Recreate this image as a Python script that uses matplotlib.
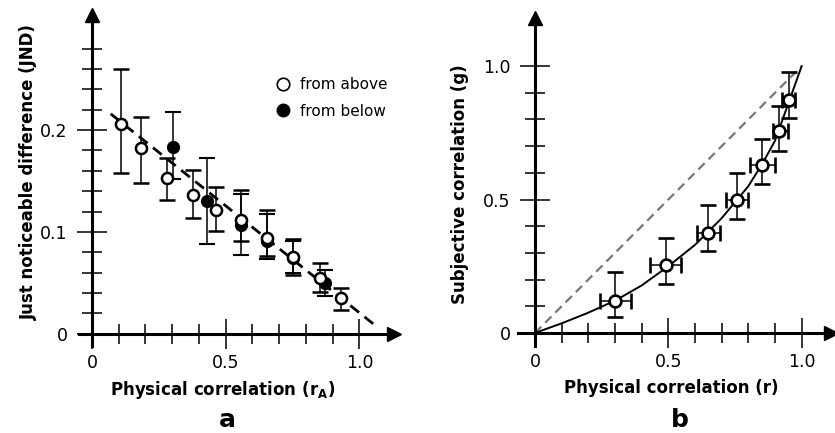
import matplotlib
matplotlib.use('Agg')
import matplotlib.pyplot as plt
import numpy as np
from matplotlib.lines import Line2D

# panel a: JND vs physical correlation
above_x = [0.107, 0.183, 0.279, 0.376, 0.463, 0.556, 0.655, 0.751, 0.853, 0.932]
above_y = [0.206, 0.182, 0.153, 0.136, 0.122, 0.112, 0.094, 0.075, 0.055, 0.035]
above_lo = [0.158, 0.148, 0.131, 0.114, 0.101, 0.091, 0.076, 0.058, 0.041, 0.023]
above_hi = [0.260, 0.213, 0.173, 0.161, 0.144, 0.141, 0.122, 0.093, 0.070, 0.045]

below_x = [0.303, 0.430, 0.556, 0.655, 0.751, 0.872]
below_y = [0.183, 0.130, 0.107, 0.091, 0.074, 0.050]
below_lo = [0.152, 0.088, 0.077, 0.073, 0.060, 0.037]
below_hi = [0.218, 0.173, 0.137, 0.118, 0.091, 0.063]

fit_a_x = [0.07, 1.06]
fit_a_y = [0.216, 0.008]

# panel b: subjective vs physical correlation
g_x = [0.302, 0.491, 0.649, 0.758, 0.853, 0.915, 0.951]
g_y = [0.121, 0.253, 0.375, 0.500, 0.629, 0.757, 0.874]
g_ylo = [0.058, 0.184, 0.308, 0.427, 0.559, 0.682, 0.807]
g_yhi = [0.228, 0.357, 0.480, 0.600, 0.726, 0.851, 0.979]
g_xlo = [0.243, 0.433, 0.608, 0.718, 0.805, 0.893, 0.928]
g_xhi = [0.360, 0.549, 0.693, 0.799, 0.899, 0.949, 0.974]

curve_x = [0.0, 0.1, 0.2, 0.3, 0.4, 0.5, 0.6, 0.7, 0.8, 0.85, 0.9, 0.95, 0.975, 1.0]
curve_y = [0.0, 0.036, 0.076, 0.121, 0.178, 0.25, 0.33, 0.43, 0.55, 0.63, 0.72, 0.86, 0.93, 1.0]

diag_x = [0.0, 1.0]
diag_y = [0.0, 1.0]


def style_axes(ax, xmajor, xminor, ymajor, yminor, xlabels, ylabels):
    for s in ['top', 'right']:
        ax.spines[s].set_visible(False)
    ax.spines['left'].set_position(('data', 0))
    ax.spines['bottom'].set_position(('data', 0))
    ax.spines['left'].set_linewidth(2.2)
    ax.spines['bottom'].set_linewidth(2.2)
    ax.set_xticks(xmajor)
    ax.set_xticklabels(xlabels)
    ax.set_xticks(xminor, minor=True)
    ax.set_yticks(ymajor)
    ax.set_yticklabels(ylabels)
    ax.set_yticks(yminor, minor=True)
    ax.tick_params(which='major', direction='inout', length=21, width=1.1, labelsize=12.5)
    ax.tick_params(which='minor', direction='inout', length=15, width=1.1)
    ax.tick_params(axis='x', which='major', pad=4)
    ax.tick_params(axis='y', which='major', pad=7)
    ax.plot(1, 0, '>k', ms=10, transform=ax.get_yaxis_transform(), clip_on=False)
    ax.plot(0, 1, '^k', ms=10, transform=ax.get_xaxis_transform(), clip_on=False)


fig = plt.figure(figsize=(8.35, 4.33), dpi=100)

# ---- panel a ----
ax1 = fig.add_axes([0.0941, 0.2009, 0.378, 0.7644])
ax1.set_xlim(-0.05, 1.13)
ax1.set_ylim(-0.012, 0.313)
style_axes(ax1, [0, 0.5, 1.0], np.arange(0.1, 1.0, 0.1), [0, 0.1, 0.2],
           [v for v in np.arange(0.02, 0.29, 0.02) if abs(v - 0.1) > 1e-6 and abs(v - 0.2) > 1e-6],
           ['0', '0.5', '1.0'], ['0', '0.1', '0.2'])

ax1.plot(fit_a_x, fit_a_y, color='black', lw=2.0, ls=(0, (4, 2.5)), zorder=2)

b_y = np.array(below_y)
ax1.errorbar(below_x, below_y, yerr=[b_y - np.array(below_lo), np.array(below_hi) - b_y],
             fmt='o', ms=8, mfc='black', mec='black', mew=1.5, ecolor='black',
             elinewidth=1.1, capsize=6, capthick=1.1, zorder=3)
a_y = np.array(above_y)
ax1.errorbar(above_x, above_y, yerr=[a_y - np.array(above_lo), np.array(above_hi) - a_y],
             fmt='o', ms=8, mfc='white', mec='black', mew=1.8, ecolor='black',
             elinewidth=1.1, capsize=6, capthick=1.1, zorder=4)

handles = [Line2D([], [], marker='o', ls='none', ms=9, mfc='white', mec='black', mew=1.2),
           Line2D([], [], marker='o', ls='none', ms=9, mfc='black', mec='black')]
ax1.legend(handles, ['from above', 'from below'], loc='upper left',
           bbox_to_anchor=(0.6, 0.835), frameon=False, fontsize=11,
           handlelength=1.0, handletextpad=0.6, borderpad=0, labelspacing=0.75)

ax1.set_xlabel('Physical correlation (r$_\\mathbf{A}$)', fontsize=12, fontweight='bold')
ax1.set_ylabel('Just noticeable difference (JND)', fontsize=12, fontweight='bold')
ax1.xaxis.set_label_coords(0.455, -0.1)
ax1.yaxis.set_label_coords(-0.13, 0.525)

# ---- panel b ----
ax2 = fig.add_axes([0.6199, 0.2002, 0.3753, 0.758])
ax2.set_xlim(-0.065, 1.11)
ax2.set_ylim(-0.05, 1.18)
style_axes(ax2, [0, 0.5, 1.0], [0.1, 0.2, 0.3, 0.4, 0.6, 0.7, 0.8, 0.9],
           [0, 0.5, 1.0], [0.1, 0.2, 0.3, 0.4, 0.6, 0.7, 0.8, 0.9],
           ['0', '0.5', '1.0'], ['0', '0.5', '1.0'])

ax2.plot(diag_x, diag_y, color='#777777', lw=1.6, ls=(0, (4, 2.5)), zorder=1)
ax2.plot(curve_x, curve_y, color='black', lw=1.4, zorder=2)

gx = np.array(g_x)
gy = np.array(g_y)
ax2.errorbar(g_x, g_y,
             yerr=[gy - np.array(g_ylo), np.array(g_yhi) - gy],
             xerr=[gx - np.array(g_xlo), np.array(g_xhi) - gx],
             fmt='o', ms=8.5, mfc='white', mec='black', mew=1.9, ecolor='black',
             elinewidth=1.1, capsize=5.5, capthick=1.1, zorder=3)

ax2.set_xlabel('Physical correlation (r)', fontsize=12, fontweight='bold')
ax2.set_ylabel('Subjective correlation (g)', fontsize=12, fontweight='bold')
ax2.xaxis.set_label_coords(0.49, -0.1)
ax2.yaxis.set_label_coords(-0.155, 0.495)

fig.text(0.272, 0.002, 'a', fontsize=18, fontweight='bold', ha='center', va='bottom')
fig.text(0.814, 0.002, 'b', fontsize=18, fontweight='bold', ha='center', va='bottom')

fig.savefig('out.png', dpi=100)
